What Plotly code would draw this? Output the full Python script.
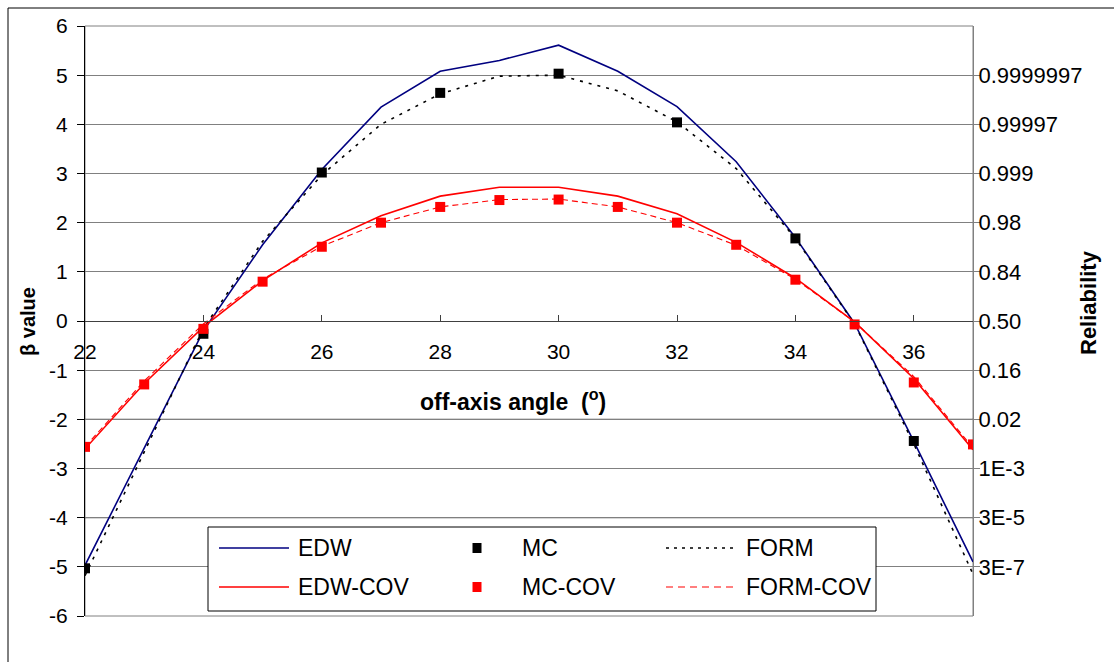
import plotly.graph_objects as go

# ---- data -------------------------------------------------------------
angle = list(range(22, 38))                       # off-axis angle (deg)
edw = [-4.97, -2.60, -0.20, 1.55, 3.08, 4.35, 5.08, 5.30,
       5.61, 5.08, 4.36, 3.24, 1.70, -0.05, -2.45, -4.90]
form = [-5.18, -2.65, -0.15, 1.62, 2.97, 4.00, 4.62, 4.98,
        5.00, 4.68, 4.05, 3.10, 1.68, -0.06, -2.50, -5.15]
edw_cov = [-2.60, -1.27, -0.12, 0.82, 1.59, 2.14, 2.54, 2.72,
           2.72, 2.54, 2.18, 1.60, 0.87, -0.02, -1.17, -2.62]
form_cov = [-2.56, -1.22, -0.06, 0.85, 1.52, 2.00, 2.32, 2.47,
            2.48, 2.32, 2.00, 1.54, 0.85, -0.02, -1.13, -2.58]
mc_angle = [22, 24, 26, 28, 30, 32, 34, 36]
mc = [-5.03, -0.26, 3.02, 4.64, 5.03, 4.04, 1.68, -2.44]
mc_cov = [-2.56, -1.29, -0.16, 0.80, 1.51, 2.00, 2.32, 2.46,
          2.47, 2.32, 2.00, 1.55, 0.84, -0.07, -1.25, -2.51]

x_ticks = [22, 24, 26, 28, 30, 32, 34, 36]
beta_ticks = list(range(-6, 7))
beta_text = [str(v) for v in beta_ticks]
rel_beta = [-5, -4, -3, -2, -1, 0, 1, 2, 3, 4, 5]
rel_text = ["3E-7", "3E-5", "1E-3", "0.02", "0.16", "0.50",
            "0.84", "0.98", "0.999", "0.99997", "0.9999997"]

NAVY, RED, BLACK, GRID = "#000080", "#FF0000", "#000000", "#808080"
FONT = "Liberation Sans, Arial, sans-serif"

# plot-area geometry in pixels (used for the hand-built legend and frame)
W, H = 1114, 662
L, R, T, B = 85, 973, 26, 616


def px_x(px):
    return (px - L) / (R - L)


def px_y(py):
    return (B - py) / (B - T)


fig = go.Figure()

fig.add_trace(go.Scatter(x=angle, y=edw, name="EDW", mode="lines",
                         line=dict(color=NAVY, width=1.6)))
fig.add_trace(go.Scatter(x=angle, y=form, name="FORM", mode="lines",
                         line=dict(color=BLACK, width=1.6, dash="3px,6px")))
fig.add_trace(go.Scatter(x=angle, y=edw_cov, name="EDW-COV", mode="lines",
                         line=dict(color=RED, width=1.6)))
fig.add_trace(go.Scatter(x=angle, y=form_cov, name="FORM-COV", mode="lines",
                         line=dict(color=RED, width=1.1, dash="6px,4px")))
fig.add_trace(go.Scatter(x=mc_angle, y=mc, name="MC", mode="markers",
                         marker=dict(symbol="square", size=10, color=BLACK)))
fig.add_trace(go.Scatter(x=angle, y=mc_cov, name="MC-COV", mode="markers",
                         marker=dict(symbol="square", size=10, color=RED)))
# invisible trace that carries the secondary (reliability) axis
fig.add_trace(go.Scatter(x=[angle[0]], y=[0], yaxis="y2", mode="markers",
                         marker=dict(opacity=0), hoverinfo="skip"))

fig.update_traces(showlegend=False)

shapes = []
# plot-area frame
shapes.append(dict(type="rect", xref="paper", yref="paper", x0=0, x1=1,
                   y0=0, y1=1, line=dict(color=GRID, width=1), layer="below"))
# darker grid rows
for v in (3, -2, -4):
    shapes.append(dict(type="line", xref="paper", yref="y", x0=0, x1=1,
                       y0=v, y1=v, line=dict(color=BLACK, width=1),
                       layer="between"))
# outer chart border
bx, by = px_x(8), px_y(8)
shapes.append(dict(type="line", xref="paper", yref="paper", x0=bx, x1=bx,
                   y0=-0.2, y1=by, line=dict(color=BLACK, width=1)))
shapes.append(dict(type="line", xref="paper", yref="paper", x0=bx, x1=1.3,
                   y0=by, y1=by, line=dict(color=BLACK, width=1)))

# legend box
shapes.append(dict(type="rect", xref="paper", yref="paper",
                   x0=px_x(208), x1=px_x(876), y0=px_y(611), y1=px_y(527),
                   fillcolor="white", line=dict(color=BLACK, width=1)))

legend_rows = [548, 587]
legend_items = [
    # (label, kind, colour, dash, symbol-x, text-x, row)
    ("EDW", "line", NAVY, "solid", (219, 289), 297, 0),
    ("MC", "marker", BLACK, None, 477, 521, 0),
    ("FORM", "line", BLACK, "dot", (666, 734), 745, 0),
    ("EDW-COV", "line", RED, "solid", (219, 289), 297, 1),
    ("MC-COV", "marker", RED, None, 477, 521, 1),
    ("FORM-COV", "line", RED, "dash", (666, 734), 745, 1),
]

annotations = []
for label, kind, col, dash, sx, tx, row in legend_items:
    yy = px_y(legend_rows[row])
    if kind == "line":
        d = {"solid": "solid", "dot": "3px,5px", "dash": "7px,5px"}[dash]
        shapes.append(dict(type="line", xref="paper", yref="paper",
                           x0=px_x(sx[0]), x1=px_x(sx[1]), y0=yy, y1=yy,
                           line=dict(color=col, width=1.6 if dash != "dash" else 1.1,
                                     dash=d)))
    else:
        shapes.append(dict(type="rect", xref="paper", yref="paper",
                           x0=px_x(sx - 4.5), x1=px_x(sx + 4.5),
                           y0=px_y(legend_rows[row] + 5), y1=px_y(legend_rows[row] - 5),
                           fillcolor=col, line=dict(width=0)))
    annotations.append(dict(text=label, xref="paper", yref="paper",
                            x=px_x(tx), y=yy, xanchor="left", yanchor="middle",
                            showarrow=False, borderpad=0,
                            font=dict(family=FONT, size=23, color=BLACK)))

# axis titles
annotations.append(dict(text="<b>β value</b>", xref="paper", yref="paper",
                        x=px_x(28), y=px_y(322), textangle=-90, showarrow=False,
                        xanchor="center", yanchor="middle",
                        font=dict(family=FONT, size=20, color=BLACK)))
annotations.append(dict(text="<b>Reliability</b>", xref="paper", yref="paper",
                        x=px_x(1088), y=px_y(303), textangle=-90, showarrow=False,
                        xanchor="center", yanchor="middle",
                        font=dict(family=FONT, size=22, color=BLACK)))
annotations.append(dict(text="<b>off-axis angle  (<sup>o</sup>)</b>", xref="paper",
                        yref="paper", x=px_x(513), y=px_y(400), showarrow=False,
                        xanchor="center", yanchor="middle",
                        font=dict(family=FONT, size=23, color=BLACK)))

fig.update_layout(
    width=W, height=H,
    margin=dict(l=L, r=W - R, t=T, b=H - B, pad=0),
    paper_bgcolor="white", plot_bgcolor="white",
    font=dict(family=FONT, size=21, color=BLACK),
    showlegend=False,
    shapes=shapes,
    annotations=annotations,
    xaxis=dict(range=[22, 37], tickvals=x_ticks, ticks="inside", ticklen=6,
               tickcolor="#404040", showline=True, linecolor="#404040",
               linewidth=1, showgrid=False, zeroline=False,
               anchor="free", position=0.5, ticklabelstandoff=12,
               tickfont=dict(family=FONT, size=21)),
    yaxis=dict(range=[-6, 6], tickvals=beta_ticks, ticktext=beta_text,
               ticks="outside", ticklen=7, ticklabelstandoff=5,
               tickcolor=BLACK, showline=True, linecolor=BLACK, linewidth=1,
               showgrid=True, gridcolor=GRID, gridwidth=1, zeroline=False,
               tickfont=dict(family=FONT, size=21)),
    yaxis2=dict(range=[-6, 6], overlaying="y", side="right", tickvals=rel_beta,
                ticktext=rel_text, ticks="outside", ticklen=6, tickcolor=GRID,
                ticklabelstandoff=-6,
                showline=True, linecolor=GRID, linewidth=1, showgrid=False,
                zeroline=False, tickfont=dict(family=FONT, size=22)),
)

fig.write_html("out.html")
